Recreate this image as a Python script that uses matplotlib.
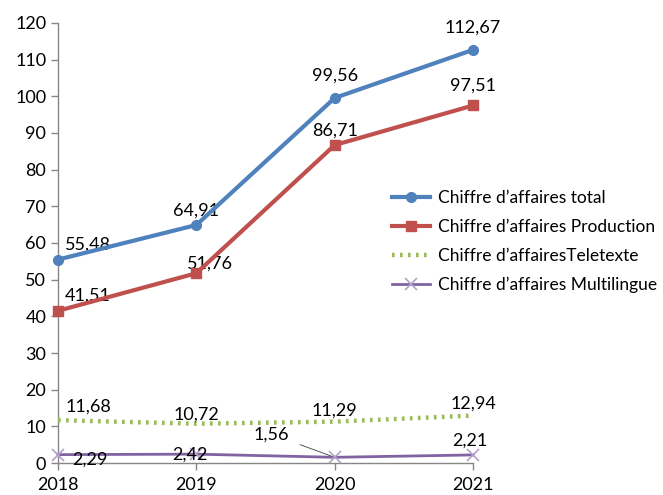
import matplotlib
matplotlib.use('Agg')
import matplotlib.pyplot as plt

plt.rcParams['font.family'] = ['Lato', 'DejaVu Sans']

years = [2018, 2019, 2020, 2021]
total = [55.48, 64.91, 99.56, 112.67]
production = [41.51, 51.76, 86.71, 97.51]
teletexte = [11.68, 10.72, 11.29, 12.94]
multilingue = [2.29, 2.42, 1.56, 2.21]

labels = ["Chiffre d’affaires total", "Chiffre d’affaires Production",
          "Chiffre d’affairesTeletexte", "Chiffre d’affaires Multilingue"]

BLUE, RED, GREEN, PURPLE = '#4F81BD', '#C0504D', '#9BBB59', '#8064A2'

fig = plt.figure(figsize=(6.63, 4.95), dpi=100)
ax = fig.add_axes([0.0875, 0.0646, 0.626, 0.889])

ax.plot(years, total, color=BLUE, lw=3, marker='o', ms=7, label=labels[0], zorder=4)
ax.plot(years, production, color=RED, lw=3, marker='s', ms=7, label=labels[1], zorder=4)
ax.plot(years, teletexte, color=GREEN, lw=3.2, ls=(0, (0.6, 1.2)), label=labels[2], zorder=3)
ax.plot(years, multilingue, color=PURPLE, lw=2, marker='x', ms=8, mec='#b3a2c7',
        mew=1.2, label=labels[3], zorder=3)

fs = 13
# data labels (offsets in pixels)
off_total = [(30, 15), (0, 14), (0, 22), (0, 22)]
off_prod = [(30, 15), (14, 10), (0, 14), (0, 20)]
off_tele = [(30, 14), (0, 9), (0, 11), (0, 12)]
off_multi = [(32, -5), (-6, 0), (-63, 23), (-3, 14)]

for series, offs in [(total, off_total), (production, off_prod),
                     (teletexte, off_tele), (multilingue, off_multi)]:
    for x, y, (dx, dy) in zip(years, series, offs):
        txt = f"{y:.2f}".replace('.', ',')
        if series is multilingue and x == 2020:
            ax.annotate(txt, (x, y), xytext=(dx, dy), textcoords='offset pixels',
                        ha='center', va='center', fontsize=fs,
                        arrowprops=dict(arrowstyle='-', color='#404040', lw=0.6,
                                        shrinkA=6, shrinkB=3))
        else:
            ax.annotate(txt, (x, y), xytext=(dx, dy), textcoords='offset pixels',
                        ha='center', va='center', fontsize=fs)

ax.set_xlim(2018, 2021)
ax.set_ylim(0, 120)
ax.set_xticks(years)
ax.set_xticklabels([str(y) for y in years])
ax.set_yticks(range(0, 121, 10))
ax.tick_params(axis='both', labelsize=fs, color='#868686', length=5, width=1)
ax.tick_params(axis='x', pad=5)
for s in ['top', 'right']:
    ax.spines[s].set_visible(False)
for s in ['left', 'bottom']:
    ax.spines[s].set_color('#868686')
    ax.spines[s].set_linewidth(1)
for line in ax.lines:
    line.set_clip_on(False)

fig.legend(loc='upper left', bbox_to_anchor=(0.567, 0.648), frameon=False,
           fontsize=12.5, handlelength=2.2, handletextpad=0.5, labelspacing=0.75)

fig.savefig('out.png', dpi=100)
